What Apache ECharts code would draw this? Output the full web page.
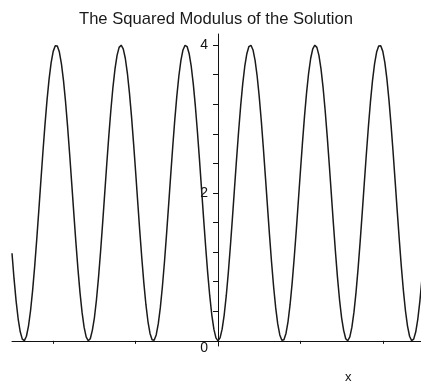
<!DOCTYPE html>
<html>
<head>
<meta charset="utf-8">
<script src="https://cdn.jsdelivr.net/npm/echarts@6/dist/echarts.min.js"></script>
<style>
  html, body { margin: 0; padding: 0; background: #fff; }
  #chart { width: 421px; height: 384px; }
</style>
</head>
<body>
<div id="chart"></div>
<script>
// Sample positions along x
const xValues = [
  -2.5,-2.475,-2.45,-2.425,-2.4,-2.375,-2.35,-2.325,-2.3,-2.275,-2.25,-2.225,-2.2,-2.175,-2.15,-2.125,-2.1,-2.075,-2.05,-2.025,
  -2,-1.975,-1.95,-1.925,-1.9,-1.875,-1.85,-1.825,-1.8,-1.775,-1.75,-1.725,-1.7,-1.675,-1.65,-1.625,-1.6,-1.575,-1.55,-1.525,
  -1.5,-1.475,-1.45,-1.425,-1.4,-1.375,-1.35,-1.325,-1.3,-1.275,-1.25,-1.225,-1.2,-1.175,-1.15,-1.125,-1.1,-1.075,-1.05,-1.025,
  -1,-0.975,-0.95,-0.925,-0.9,-0.875,-0.85,-0.825,-0.8,-0.775,-0.75,-0.725,-0.7,-0.675,-0.65,-0.625,-0.6,-0.575,-0.55,-0.525,
  -0.5,-0.475,-0.45,-0.425,-0.4,-0.375,-0.35,-0.325,-0.3,-0.275,-0.25,-0.225,-0.2,-0.175,-0.15,-0.125,-0.1,-0.075,-0.05,-0.025,
  0,
  0.025,0.05,0.075,0.1,0.125,0.15,0.175,0.2,0.225,0.25,0.275,0.3,0.325,0.35,0.375,0.4,0.425,0.45,0.475,0.5,
  0.525,0.55,0.575,0.6,0.625,0.65,0.675,0.7,0.725,0.75,0.775,0.8,0.825,0.85,0.875,0.9,0.925,0.95,0.975,1,
  1.025,1.05,1.075,1.1,1.125,1.15,1.175,1.2,1.225,1.25,1.275,1.3,1.325,1.35,1.375,1.4,1.425,1.45,1.475,1.5,
  1.525,1.55,1.575,1.6,1.625,1.65,1.675,1.7,1.725,1.75,1.775,1.8,1.825,1.85,1.875,1.9,1.925,1.95,1.975,2,
  2.025,2.05,2.075,2.1,2.125,2.15,2.175,2.2,2.225,2.25,2.275,2.3,2.325,2.35,2.375,2.4,2.425,2.45,2.475,2.5
];

// |psi|^2 at each sample position
const modulusSquared = [
  1.184,0.837,0.537,0.295,0.122,0.023,0.002,0.062,0.199,0.407,0.679,1.004,1.369,1.758,2.157,2.550,2.921,3.256,3.540,3.763,
  3.915,3.992,3.988,3.906,3.747,3.519,3.231,2.893,2.520,2.126,1.727,1.338,0.977,0.656,0.388,0.185,0.054,0.001,0.028,0.142,
  0.312,0.555,0.859,1.209,1.592,1.991,2.391,2.772,3.122,3.429,3.678,3.861,3.969,3.999,3.950,3.822,3.622,3.357,3.039,2.678,
  2.291,1.892,1.494,1.123,0.783,0.492,0.261,0.100,0.014,0.007,0.080,0.229,0.449,0.731,1.063,1.433,1.825,2.224,2.615,2.981,
  3.307,3.582,3.794,3.934,3.997,3.980,3.884,3.714,3.475,3.177,2.832,2.454,2.058,1.660,1.275,0.919,0.607,0.349,0.158,0.040,
  0,
  0.040,0.158,0.349,0.607,0.919,1.275,1.660,2.058,2.454,2.832,3.177,3.475,3.714,3.884,3.980,3.997,3.934,3.794,3.582,3.307,
  2.981,2.615,2.224,1.825,1.433,1.063,0.731,0.449,0.229,0.080,0.007,0.014,0.100,0.261,0.492,0.783,1.123,1.494,1.892,2.291,
  2.678,3.039,3.357,3.622,3.822,3.950,3.999,3.969,3.861,3.678,3.429,3.122,2.772,2.391,1.991,1.592,1.209,0.859,0.555,0.312,
  0.142,0.028,0.001,0.054,0.185,0.388,0.656,0.977,1.338,1.727,2.126,2.520,2.893,3.231,3.519,3.747,3.906,3.988,3.992,3.915,
  3.763,3.540,3.256,2.921,2.550,2.157,1.758,1.369,1.004,0.679,0.407,0.199,0.062,0.002,0.023,0.122,0.295,0.537,0.837,1.184
];

// Axis ticks and labels
const xTicks = [-2, -1, 0, 1, 2];
const yTicks = [0, 0.4, 0.8, 1.2, 1.6, 2, 2.4, 2.8, 3.2, 3.6, 4];
const yTickLabels = [0, 2, 4];

const titleText = 'The Squared Modulus of the Solution';
const xAxisTitle = 'x';

const FONT = '"Liberation Sans", Arial, sans-serif';

// plot area: x from -2.5 to 2.5 across 12px .. 424px
const GRID_LEFT = 12;
const GRID_RIGHT = -3;
const X_MIN = -2.5, X_MAX = 2.5;
const plotWidth = 421 - GRID_LEFT - GRID_RIGHT;
const yAxisShift = plotWidth * (0 - X_MIN) / (X_MAX - X_MIN);

const points = xValues.map((x, i) => [x, modulusSquared[i]]);

const chart = echarts.init(document.getElementById('chart'), null, { renderer: 'canvas' });

chart.setOption({
  animation: false,
  backgroundColor: '#ffffff',
  title: {
    text: titleText,
    left: 74,
    top: 6,
    textStyle: { fontFamily: FONT, fontSize: 16.6, fontWeight: 'normal', color: '#1a1a1a' }
  },
  grid: {
    left: GRID_LEFT, right: GRID_RIGHT, top: 34, bottom: 38,
    containLabel: false, outerBoundsMode: 'none'
  },
  xAxis: {
    type: 'value',
    min: X_MIN,
    max: X_MAX,
    axisLine: { onZero: true, lineStyle: { color: '#111', width: 1 } },
    axisTick: { show: true, length: 3, customValues: xTicks, lineStyle: { color: '#111' } },
    axisLabel: { show: false },
    splitLine: { show: false }
  },
  yAxis: {
    type: 'value',
    min: -0.07,
    max: 4.15,
    position: 'left',
    offset: -yAxisShift,
    axisLine: { show: true, onZero: false, lineStyle: { color: '#111', width: 1 } },
    axisTick: { show: true, length: 5, customValues: yTicks, lineStyle: { color: '#111' } },
    axisLabel: {
      show: true,
      customValues: yTickLabels,
      margin: 10,
      fontFamily: FONT,
      fontSize: 14,
      color: '#111',
      formatter: v => (Math.abs(v) < 1e-9 ? '{low|0}' : String(Math.round(v))),
      rich: { low: { fontFamily: FONT, fontSize: 14, color: '#111', padding: [14, 0, 0, 0] } }
    },
    splitLine: { show: false }
  },
  graphic: [{
    type: 'text',
    left: 345,
    top: 371,
    style: { text: xAxisTitle, font: '13px ' + FONT, fill: '#111' }
  }],
  series: [{
    type: 'line',
    data: points,
    showSymbol: false,
    symbol: 'none',
    lineStyle: { color: '#1a1a1a', width: 1.5 },
    clip: true
  }]
});
</script>
</body>
</html>
